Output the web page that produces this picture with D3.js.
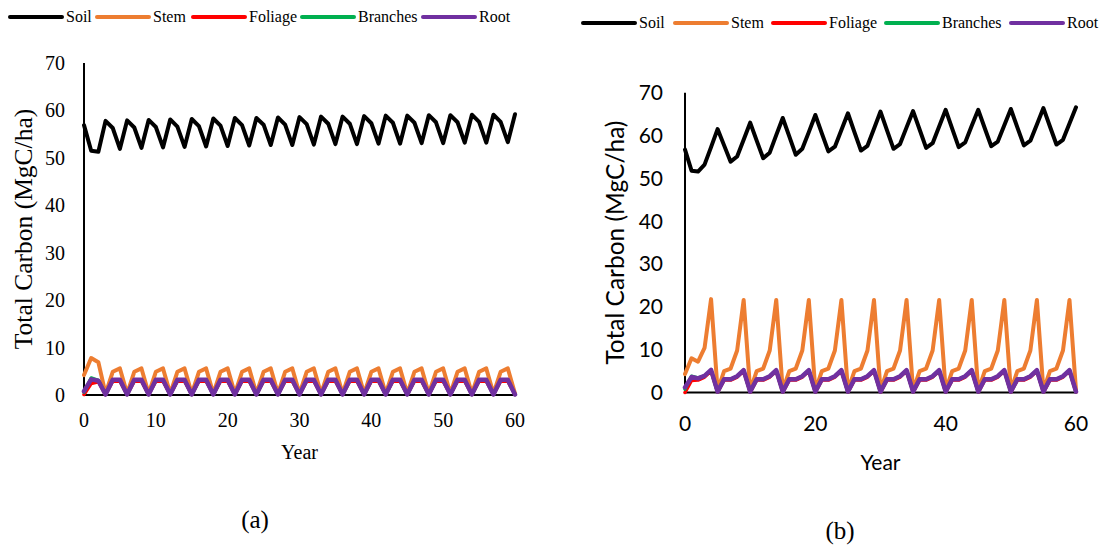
<!DOCTYPE html>
<html>
<head>
<meta charset="utf-8">
<script src="https://d3js.org/d3.v7.min.js"></script>
<style>
  body { margin: 0; background: #fff; }
  svg { display: block; }
</style>
</head>
<body>
<div id="chart"></div>
<script>
// series names + colours (same for both panels)
var seriesNames = ["Soil", "Stem", "Foliage", "Branches", "Root"];
var seriesColors = ["#000000", "#ed7d31", "#ff0000", "#00b050", "#7030a0"];

var yTicks = [0, 10, 20, 30, 40, 50, 60, 70];
var xTicksA = [0, 10, 20, 30, 40, 50, 60];
var xTicksB = [0, 20, 40, 60];

// ---- panel (a): years 0..60, 3 year cycle
var soilA = [56.9, 51.5, 51.3, 57.8, 56.3, 51.9, 57.9, 56.4, 52.1, 58.0,
  56.5, 52.2, 58.1, 56.6, 52.3, 58.2, 56.7, 52.4, 58.3, 56.8,
  52.5, 58.4, 56.9, 52.6, 58.4, 57.0, 52.7, 58.5, 57.0, 52.7,
  58.6, 57.1, 52.8, 58.7, 57.2, 52.9, 58.7, 57.2, 52.9, 58.8,
  57.3, 53.0, 58.9, 57.4, 53.0, 58.9, 57.4, 53.1, 59.0, 57.5,
  53.1, 59.0, 57.5, 53.2, 59.1, 57.6, 53.2, 59.1, 57.6, 53.3, 59.2];
var stemA = [4.2, 7.8, 6.9, 0.3, 4.9, 5.6, 0.3, 4.9, 5.6, 0.3,
  4.9, 5.6, 0.3, 4.9, 5.6, 0.3, 4.9, 5.6, 0.3, 4.9,
  5.6, 0.3, 4.9, 5.6, 0.3, 4.9, 5.6, 0.3, 4.9, 5.6,
  0.3, 4.9, 5.6, 0.3, 4.9, 5.6, 0.3, 4.9, 5.6, 0.3,
  4.9, 5.6, 0.3, 4.9, 5.6, 0.3, 4.9, 5.6, 0.3, 4.9,
  5.6, 0.3, 4.9, 5.6, 0.3, 4.9, 5.6, 0.3, 4.9, 5.6, 0.3];
var foliageA = [0.1, 2.4, 2.8, 0.1, 2.9, 2.9, 0.1, 2.9, 2.9, 0.1,
  2.9, 2.9, 0.1, 2.9, 2.9, 0.1, 2.9, 2.9, 0.1, 2.9,
  2.9, 0.1, 2.9, 2.9, 0.1, 2.9, 2.9, 0.1, 2.9, 2.9,
  0.1, 2.9, 2.9, 0.1, 2.9, 2.9, 0.1, 2.9, 2.9, 0.1,
  2.9, 2.9, 0.1, 2.9, 2.9, 0.1, 2.9, 2.9, 0.1, 2.9,
  2.9, 0.1, 2.9, 2.9, 0.1, 2.9, 2.9, 0.1, 2.9, 2.9, 0.1];
var branchesA = [0.6, 3.6, 3.1, 0.1, 3.1, 3.1, 0.1, 3.1, 3.1, 0.1,
  3.1, 3.1, 0.1, 3.1, 3.1, 0.1, 3.1, 3.1, 0.1, 3.1,
  3.1, 0.1, 3.1, 3.1, 0.1, 3.1, 3.1, 0.1, 3.1, 3.1,
  0.1, 3.1, 3.1, 0.1, 3.1, 3.1, 0.1, 3.1, 3.1, 0.1,
  3.1, 3.1, 0.1, 3.1, 3.1, 0.1, 3.1, 3.1, 0.1, 3.1,
  3.1, 0.1, 3.1, 3.1, 0.1, 3.1, 3.1, 0.1, 3.1, 3.1, 0.1];
var rootA = [0.8, 3.3, 3.0, 0.1, 3.2, 3.2, 0.1, 3.2, 3.2, 0.1,
  3.2, 3.2, 0.1, 3.2, 3.2, 0.1, 3.2, 3.2, 0.1, 3.2,
  3.2, 0.1, 3.2, 3.2, 0.1, 3.2, 3.2, 0.1, 3.2, 3.2,
  0.1, 3.2, 3.2, 0.1, 3.2, 3.2, 0.1, 3.2, 3.2, 0.1,
  3.2, 3.2, 0.1, 3.2, 3.2, 0.1, 3.2, 3.2, 0.1, 3.2,
  3.2, 0.1, 3.2, 3.2, 0.1, 3.2, 3.2, 0.1, 3.2, 3.2, 0.1];

// ---- panel (b): years 0..60, 5 year cycle
var soilB = [56.7, 51.8, 51.6, 53.2, 57.3, 61.5, 57.7, 53.9, 55.1, 59.0,
  63.0, 58.8, 54.7, 56.0, 60.1, 64.1, 59.8, 55.5, 56.9, 60.8,
  64.8, 60.5, 56.3, 57.4, 61.3, 65.2, 60.8, 56.5, 57.6, 61.6,
  65.6, 61.2, 56.9, 58.0, 61.9, 65.7, 61.4, 57.1, 58.2, 62.1,
  66.0, 61.6, 57.3, 58.4, 62.3, 66.0, 61.7, 57.5, 58.6, 62.4,
  66.2, 61.9, 57.7, 58.8, 62.6, 66.4, 62.1, 57.9, 59.0, 62.8, 66.6];
var stemB = [4.3, 8.0, 7.2, 10.4, 21.8, 0.5, 5.0, 5.6, 9.8, 21.6,
  0.5, 5.0, 5.6, 9.8, 21.6, 0.5, 5.0, 5.6, 9.8, 21.6,
  0.5, 5.0, 5.6, 9.8, 21.6, 0.5, 5.0, 5.6, 9.8, 21.6,
  0.5, 5.0, 5.6, 9.8, 21.6, 0.5, 5.0, 5.6, 9.8, 21.6,
  0.5, 5.0, 5.6, 9.8, 21.6, 0.5, 5.0, 5.6, 9.8, 21.6,
  0.5, 5.0, 5.6, 9.8, 21.6, 0.5, 5.0, 5.6, 9.8, 21.6, 0.5];
var foliageB = [0.0, 2.8, 2.9, 3.6, 5.0, 0.1, 2.9, 2.9, 3.6, 5.0,
  0.1, 2.9, 2.9, 3.6, 5.0, 0.1, 2.9, 2.9, 3.6, 5.0,
  0.1, 2.9, 2.9, 3.6, 5.0, 0.1, 2.9, 2.9, 3.6, 5.0,
  0.1, 2.9, 2.9, 3.6, 5.0, 0.1, 2.9, 2.9, 3.6, 5.0,
  0.1, 2.9, 2.9, 3.6, 5.0, 0.1, 2.9, 2.9, 3.6, 5.0,
  0.1, 2.9, 2.9, 3.6, 5.0, 0.1, 2.9, 2.9, 3.6, 5.0, 0.1];
var branchesB = [0.8, 3.8, 3.4, 3.9, 5.2, 0.2, 3.1, 3.1, 3.8, 5.2,
  0.2, 3.1, 3.1, 3.8, 5.2, 0.2, 3.1, 3.1, 3.8, 5.2,
  0.2, 3.1, 3.1, 3.8, 5.2, 0.2, 3.1, 3.1, 3.8, 5.2,
  0.2, 3.1, 3.1, 3.8, 5.2, 0.2, 3.1, 3.1, 3.8, 5.2,
  0.2, 3.1, 3.1, 3.8, 5.2, 0.2, 3.1, 3.1, 3.8, 5.2,
  0.2, 3.1, 3.1, 3.8, 5.2, 0.2, 3.1, 3.1, 3.8, 5.2, 0.2];
var rootB = [1.2, 3.6, 3.3, 3.9, 5.3, 0.2, 3.1, 3.1, 3.8, 5.2,
  0.2, 3.1, 3.1, 3.8, 5.2, 0.2, 3.1, 3.1, 3.8, 5.2,
  0.2, 3.1, 3.1, 3.8, 5.2, 0.2, 3.1, 3.1, 3.8, 5.2,
  0.2, 3.1, 3.1, 3.8, 5.2, 0.2, 3.1, 3.1, 3.8, 5.2,
  0.2, 3.1, 3.1, 3.8, 5.2, 0.2, 3.1, 3.1, 3.8, 5.2,
  0.2, 3.1, 3.1, 3.8, 5.2, 0.2, 3.1, 3.1, 3.8, 5.2, 0.2];

var width = 1103, height = 545;

var svg = d3.select("#chart")
    .append("svg")
    .attr("width", width)
    .attr("height", height);

var serif = "'Liberation Serif', 'Times New Roman', serif";
var sans = "Lato, 'Open Sans', sans-serif";

var panels = [
    {
        series: [soilA, stemA, foliageA, branchesA, rootA],
        xTicks: xTicksA,
        x0: 84, x1: 515, yTop: 63, yBottom: 395,
        tickFont: serif, tickSize: 20, titleSize: 25.5, yearSize: 20,
        tickGap: 19, xTickY: 427, titleX: 32, yearY: 459,
        letter: "(a)", letterX: 255, letterY: 528,
        legendY: 17, legendX: [10, 97, 193, 302, 423], legendSize: 16,
        lineW: [4, 4, 3.5, 3.5, 4.5]
    },
    {
        series: [soilB, stemB, foliageB, branchesB, rootB],
        xTicks: xTicksB,
        x0: 685, x1: 1076, yTop: 92.7, yBottom: 392.5,
        tickFont: sans, tickSize: 21, titleSize: 24.5, yearSize: 21,
        tickGap: 22, xTickY: 431, titleX: 624, yearY: 470,
        letter: "(b)", letterX: 840, letterY: 539,
        legendY: 23, legendX: [583, 675, 773, 886, 1011], legendSize: 16,
        lineW: [4, 4, 3.5, 3.5, 4.5]
    }
];

panels.forEach(function (p) {

    var x = d3.scaleLinear().domain([0, 60]).range([p.x0, p.x1]);
    var y = d3.scaleLinear().domain([0, 70]).range([p.yBottom, p.yTop]);

    var g = svg.append("g");

    // y tick labels
    g.selectAll(".ytick")
        .data(yTicks)
        .enter().append("text")
        .attr("x", p.x0 - p.tickGap)
        .attr("y", function (d) { return y(d); })
        .attr("dy", "0.35em")
        .attr("text-anchor", "end")
        .style("font-family", p.tickFont)
        .style("font-size", p.tickSize + "px")
        .text(function (d) { return d; });

    // x tick labels
    g.selectAll(".xtick")
        .data(p.xTicks)
        .enter().append("text")
        .attr("x", function (d) { return x(d); })
        .attr("y", p.xTickY)
        .attr("text-anchor", "middle")
        .style("font-family", p.tickFont)
        .style("font-size", p.tickSize + "px")
        .text(function (d) { return d; });

    // axis lines
    g.append("line")
        .attr("x1", x(0)).attr("x2", x(0))
        .attr("y1", y(0)).attr("y2", y(70))
        .attr("stroke", "#000").attr("stroke-width", 2);
    g.append("line")
        .attr("x1", x(0)).attr("x2", x(60))
        .attr("y1", y(0)).attr("y2", y(0))
        .attr("stroke", "#000").attr("stroke-width", 2);

    var line = d3.line()
        .x(function (d, i) { return x(i); })
        .y(function (d) { return y(d); });

    // excel order: soil first, root ends up on top
    p.series.forEach(function (s, k) {
        g.append("path")
            .datum(s)
            .attr("d", line)
            .attr("fill", "none")
            .attr("stroke", seriesColors[k])
            .attr("stroke-width", p.lineW[k])
            .attr("stroke-linejoin", "round")
            .attr("stroke-linecap", "round");
    });

    // axis titles
    g.append("text")
        .attr("transform", "translate(" + p.titleX + "," + ((y(0) + y(70)) / 2) + ") rotate(-90)")
        .attr("text-anchor", "middle")
        .style("font-family", p.tickFont)
        .style("font-size", p.titleSize + "px")
        .text("Total Carbon (MgC/ha)");

    g.append("text")
        .attr("x", (x(0) + x(60)) / 2)
        .attr("y", p.yearY)
        .attr("text-anchor", "middle")
        .style("font-family", p.tickFont)
        .style("font-size", p.yearSize + "px")
        .text("Year");

    g.append("text")
        .attr("x", p.letterX)
        .attr("y", p.letterY)
        .attr("text-anchor", "middle")
        .style("font-family", serif)
        .style("font-size", "25px")
        .text(p.letter);

    // legend
    var leg = g.selectAll(".leg")
        .data(seriesNames)
        .enter().append("g")
        .attr("transform", function (d, i) {
            return "translate(" + p.legendX[i] + "," + p.legendY + ")";
        });

    leg.append("line")
        .attr("x1", 0).attr("x2", 52)
        .attr("y1", 0).attr("y2", 0)
        .attr("stroke", function (d, i) { return seriesColors[i]; })
        .attr("stroke-width", 4)
        .attr("stroke-linecap", "round");

    leg.append("text")
        .attr("x", 56)
        .attr("y", 0)
        .attr("dy", "0.32em")
        .style("font-family", serif)
        .style("font-size", p.legendSize + "px")
        .text(function (d) { return d; });
});
</script>
</body>
</html>
